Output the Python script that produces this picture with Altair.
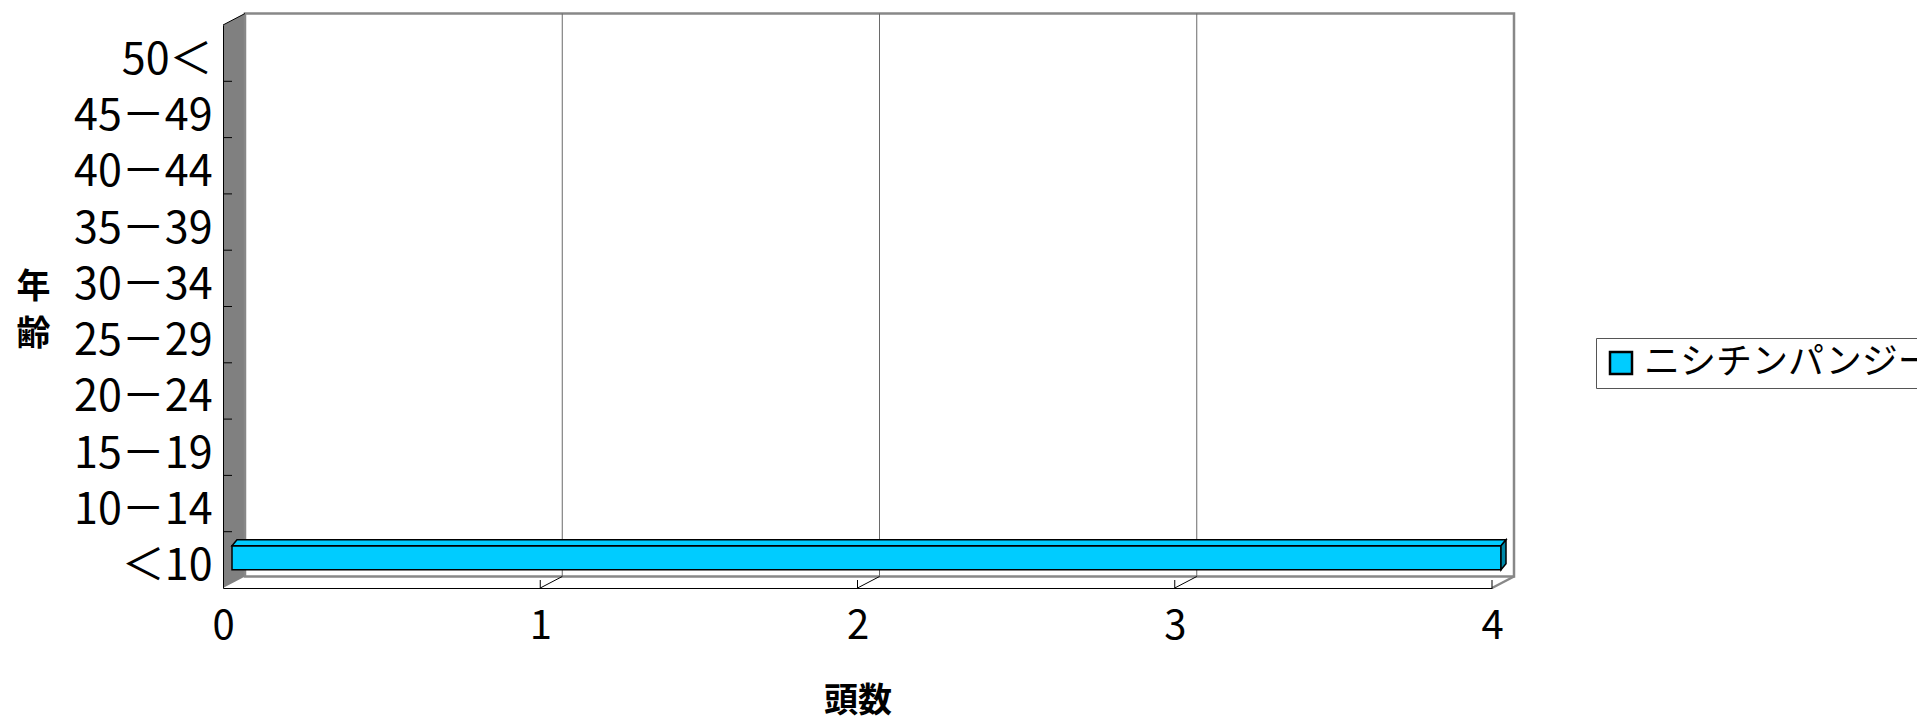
import json
import altair as alt
import pandas as pd

# ---------------- data ----------------
categories = ["＜10", "10－14", "15－19", "20－24", "25－29",
              "30－34", "35－39", "40－44", "45－49", "50＜"]
counts = [4, 0, 0, 0, 0, 0, 0, 0, 0, 0]
series_name = "ニシチンパンジー"
x_ticks = [0, 1, 2, 3, 4]

# ---------------- layout / style ----------------
W, H = 1269, 563
PAD = {"left": 223, "top": 25, "right": 1917 - 223 - 1269, "bottom": 718 - 25 - 563}
FONT = "Noto Sans CJK JP"
N = len(categories)
X_MAX = x_ticks[-1]
ux = W / X_MAX          # px per x unit
uy = H / N              # px per category

WALL_DX, WALL_DY = 22 / ux, 11.5 / uy       # 3-D depth of the walls
BAR_SX = 9 / ux                               # bar front face shift
BAR_C = 2 / uy                                # bar centre shift
BAR_H = 12 / uy                               # half thickness
BAR_DX, BAR_DY = 5 / ux, 6 / uy               # bar depth
TICK_X, TICK_Y = 9 / ux, 8 / uy

xs = alt.Scale(domain=[0, X_MAX], nice=False, zero=False)
ys = alt.Scale(domain=[0, N], nice=False, zero=False)


def ex(f="x"):
    return alt.X(f"{f}:Q", scale=xs)


def ey(f="y"):
    return alt.Y(f"{f}:Q", scale=ys)


label_expr = json.dumps(categories, ensure_ascii=False) + "[floor(datum.value)]"

x_axis = alt.Axis(
    values=x_ticks, format="d", title="頭数", grid=False, ticks=False, tickSize=0,
    labelFont=FONT, labelFontSize=40, labelColor="black", labelPadding=18,
    labelFlush=False, labelOverlap=False, labelBaseline="top",
    domainColor="black", domainWidth=1,
    titleFont=FONT, titleFontSize=34, titleFontWeight="bold", titleColor="black",
    titleY=123, titleBaseline="alphabetic", zindex=1)
y_axis = alt.Axis(
    values=[i + 0.5 for i in range(N)], labelExpr=label_expr, grid=False,
    ticks=False, tickSize=0, labelFont=FONT, labelFontSize=43, labelColor="black",
    labelPadding=11, labelAlign="right", labelBaseline="middle", labelOffset=7,
    labelOverlap=False, domainColor="black", domainWidth=1,
    title=["年", "齢"], titleAngle=0, titleFont=FONT, titleFontSize=34,
    titleFontWeight="bold", titleColor="black", titleX=-190, titleY=272,
    titleAlign="center", titleBaseline="alphabetic", titleLineHeight=47, zindex=1)

# ---------------- walls ----------------
floor_df = pd.DataFrame({"x": [0, WALL_DX, X_MAX, X_MAX + WALL_DX],
                         "y": [0, 0, 0, WALL_DY],
                         "y2": [0, WALL_DY, WALL_DY, WALL_DY]})
floor = alt.Chart(floor_df).mark_area(color="white", opacity=1).encode(
    x=alt.X("x:Q", scale=xs, axis=x_axis),
    y=alt.Y("y:Q", scale=ys, axis=y_axis),
    y2="y2:Q")

side_df = pd.DataFrame({"x": [0, WALL_DX], "y": [0, WALL_DY], "y2": [N, N + WALL_DY]})
side = alt.Chart(side_df).mark_area(color="#808080", opacity=1).encode(
    x=ex(), y=ey(), y2="y2:Q")

back_df = pd.DataFrame({"x": [WALL_DX], "x2": [X_MAX + WALL_DX],
                        "y": [WALL_DY], "y2": [N + WALL_DY]})
back = alt.Chart(back_df).mark_rect(fill="white", stroke="#888888", strokeWidth=2.5).encode(
    x=ex(), x2="x2:Q", y=ey(), y2="y2:Q")

grid_df = pd.DataFrame({"x": [k + WALL_DX for k in x_ticks[1:-1]],
                        "y": WALL_DY, "y2": N + WALL_DY})
grid = alt.Chart(grid_df).mark_rule(color="#6a6a6a", strokeWidth=1).encode(
    x=ex(), y=ey(), y2="y2:Q")

diag_df = pd.DataFrame({"x": [k for k in x_ticks[1:-1]] + [0],
                        "x2": [k + WALL_DX for k in x_ticks[1:-1]] + [WALL_DX],
                        "y": [0] * (len(x_ticks) - 2) + [N],
                        "y2": [WALL_DY] * (len(x_ticks) - 2) + [N + WALL_DY]})
diag = alt.Chart(diag_df).mark_rule(color="black", strokeWidth=1).encode(
    x=ex(), x2="x2:Q", y=ey(), y2="y2:Q")

edge_df = pd.DataFrame({"x": [X_MAX], "x2": [X_MAX + WALL_DX], "y": [0], "y2": [WALL_DY]})
edge = alt.Chart(edge_df).mark_rule(color="#888888", strokeWidth=2.5).encode(
    x=ex(), x2="x2:Q", y=ey(), y2="y2:Q")

yt_df = pd.DataFrame({"x": 0, "x2": TICK_X, "y": list(range(1, N))})
ytick = alt.Chart(yt_df).mark_rule(color="black", strokeWidth=1).encode(
    x=ex(), x2="x2:Q", y=ey())

xt_df = pd.DataFrame({"x": x_ticks[1:], "y": 0, "y2": TICK_Y})
xtick = alt.Chart(xt_df).mark_rule(color="black", strokeWidth=1).encode(
    x=ex(), y=ey(), y2="y2:Q")

# ---------------- bars ----------------
rows = [(i, v) for i, v in enumerate(counts) if v > 0]
front_df = pd.DataFrame({
    "series": series_name,
    "x": [BAR_SX for i, v in rows],
    "x2": [v + BAR_SX for i, v in rows],
    "y": [i + 0.5 + BAR_C - BAR_H for i, v in rows],
    "y2": [i + 0.5 + BAR_C + BAR_H for i, v in rows],
})
top_rows = []
side_rows = []
for i, v in rows:
    yt = i + 0.5 + BAR_C + BAR_H
    yb = i + 0.5 + BAR_C - BAR_H
    top_rows += [{"id": i, "y": yt, "x": BAR_SX, "x2": v + BAR_SX},
                 {"id": i, "y": yt + BAR_DY, "x": BAR_SX + BAR_DX, "x2": v + BAR_SX + BAR_DX}]
    side_rows += [{"id": i, "x": v + BAR_SX, "y": yb, "y2": yt},
                  {"id": i, "x": v + BAR_SX + BAR_DX, "y": yb + BAR_DY, "y2": yt + BAR_DY}]

bar_top = alt.Chart(pd.DataFrame(top_rows)).mark_area(
    orient="horizontal", fill="#00CCFF", stroke="black", strokeWidth=1.5, opacity=1).encode(
    y=ey(), x=ex(), x2="x2:Q", detail="id:N")
bar_side = alt.Chart(pd.DataFrame(side_rows)).mark_area(
    fill="#0088A8", stroke="black", strokeWidth=1.5, opacity=1).encode(
    x=ex(), y=ey(), y2="y2:Q", detail="id:N")

bar_front = alt.Chart(front_df).mark_rect(stroke="black", strokeWidth=1.5, opacity=1).encode(
    x=ex(), x2="x2:Q", y=ey(), y2="y2:Q",
    color=alt.Color("series:N", scale=alt.Scale(domain=[series_name], range=["#00CCFF"]),
                    legend=alt.Legend(
                        orient="none", legendX=1373, legendY=313, title=None,
                        symbolType="square", symbolSize=484, symbolStrokeColor="black",
                        symbolStrokeWidth=2.5, symbolOpacity=1, symbolOffset=0,
                        labelFont=FONT, labelFontSize=36, labelColor="black",
                        labelOffset=5, labelLimit=2000, padding=7,
                        strokeColor="#555555", fillColor="white")),
)

chart = alt.layer(
    floor, side, back, grid, diag, edge, ytick, xtick, bar_front, bar_top, bar_side
).properties(
    width=W, height=H, padding=PAD, autosize=alt.AutoSizeParams(type="none"),
    background="white",
).configure_view(stroke=None).configure(font=FONT)

chart.save("out.html", embed_options={"renderer": "svg", "actions": False})
